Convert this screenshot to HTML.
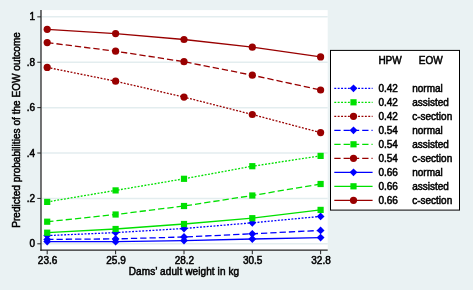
<!DOCTYPE html>
<html><head><meta charset="utf-8"><title>chart</title>
<style>
html,body{margin:0;padding:0;background:#eaf2f3;}
body{width:473px;height:290px;overflow:hidden;}
svg{display:block;}
text{font-family:"Liberation Sans",sans-serif;font-size:10px;fill:#000;stroke:#000;stroke-width:0.5px;}
</style></head><body>
<svg width="473" height="290" viewBox="0 0 473 290">
<defs><filter id="soft" x="-5%" y="-5%" width="110%" height="110%"><feGaussianBlur stdDeviation="0.35"/></filter></defs>
<rect x="0" y="0" width="473" height="290" fill="#eaf2f3"/>
<g filter="url(#soft)">
<rect x="41" y="10.1" width="286.7" height="240.2" fill="#ffffff"/>

<line x1="41.5" x2="327.7" y1="243.80" y2="243.80" stroke="#e3edef" stroke-width="1.5"/>
<line x1="41.5" x2="327.7" y1="198.41" y2="198.41" stroke="#e3edef" stroke-width="1.5"/>
<line x1="41.5" x2="327.7" y1="153.02" y2="153.02" stroke="#e3edef" stroke-width="1.5"/>
<line x1="41.5" x2="327.7" y1="107.63" y2="107.63" stroke="#e3edef" stroke-width="1.5"/>
<line x1="41.5" x2="327.7" y1="62.24" y2="62.24" stroke="#e3edef" stroke-width="1.5"/>
<line x1="41.5" x2="327.7" y1="16.85" y2="16.85" stroke="#e3edef" stroke-width="1.5"/>
<line x1="41" x2="41" y1="10.1" y2="250.7" stroke="#3a3a3a" stroke-width="1.4"/>
<line x1="40.3" x2="327.7" y1="250.1" y2="250.1" stroke="#222" stroke-width="1.3"/>
<line x1="37.3" x2="41" y1="243.80" y2="243.80" stroke="#222" stroke-width="1"/>
<text x="35.1" y="247.40" text-anchor="end">0</text>
<line x1="37.3" x2="41" y1="198.41" y2="198.41" stroke="#222" stroke-width="1"/>
<text x="35.1" y="202.01" text-anchor="end">.2</text>
<line x1="37.3" x2="41" y1="153.02" y2="153.02" stroke="#222" stroke-width="1"/>
<text x="35.1" y="156.62" text-anchor="end">.4</text>
<line x1="37.3" x2="41" y1="107.63" y2="107.63" stroke="#222" stroke-width="1"/>
<text x="35.1" y="111.23" text-anchor="end">.6</text>
<line x1="37.3" x2="41" y1="62.24" y2="62.24" stroke="#222" stroke-width="1"/>
<text x="35.1" y="65.84" text-anchor="end">.8</text>
<line x1="37.3" x2="41" y1="16.85" y2="16.85" stroke="#222" stroke-width="1"/>
<text x="35.1" y="20.45" text-anchor="end">1</text>
<line x1="47.2" x2="47.2" y1="250.3" y2="254.2" stroke="#222" stroke-width="1"/>
<text x="47.6" y="263.6" text-anchor="middle">23.6</text>
<line x1="115.6" x2="115.6" y1="250.3" y2="254.2" stroke="#222" stroke-width="1"/>
<text x="116.0" y="263.6" text-anchor="middle">25.9</text>
<line x1="184.0" x2="184.0" y1="250.3" y2="254.2" stroke="#222" stroke-width="1"/>
<text x="184.4" y="263.6" text-anchor="middle">28.2</text>
<line x1="252.3" x2="252.3" y1="250.3" y2="254.2" stroke="#222" stroke-width="1"/>
<text x="252.70000000000002" y="263.6" text-anchor="middle">30.5</text>
<line x1="320.6" x2="320.6" y1="250.3" y2="254.2" stroke="#222" stroke-width="1"/>
<text x="321.0" y="263.6" text-anchor="middle">32.8</text>
<text x="184" y="274.7" text-anchor="middle" style="letter-spacing:0.1px">Dams’ adult weight in kg</text>
<text transform="translate(19.6,129.9) rotate(-90)" text-anchor="middle" style="letter-spacing:0.04px">Predicted probabilities of the EOW outcome</text>
<polyline points="47.2,235.6 115.6,232.6 184.0,228.5 252.3,222.8 320.6,216.4" fill="none" stroke="#0000ff" stroke-width="1.3" stroke-dasharray="1.9 1.5"/>
<path d="M43.300000000000004 235.6L47.2 231.7L51.1 235.6L47.2 239.5Z" fill="#0000ff"/>
<path d="M111.69999999999999 232.6L115.6 228.7L119.5 232.6L115.6 236.5Z" fill="#0000ff"/>
<path d="M180.1 228.5L184.0 224.6L187.9 228.5L184.0 232.4Z" fill="#0000ff"/>
<path d="M248.4 222.8L252.3 218.9L256.2 222.8L252.3 226.70000000000002Z" fill="#0000ff"/>
<path d="M316.70000000000005 216.4L320.6 212.5L324.5 216.4L320.6 220.3Z" fill="#0000ff"/>
<polyline points="47.2,201.9 115.6,190.4 184.0,178.8 252.3,166.2 320.6,155.9" fill="none" stroke="#00e000" stroke-width="1.3" stroke-dasharray="1.9 1.5"/>
<rect x="44.1" y="198.8" width="6.2" height="6.2" fill="#00e000"/>
<rect x="112.5" y="187.3" width="6.2" height="6.2" fill="#00e000"/>
<rect x="180.9" y="175.70000000000002" width="6.2" height="6.2" fill="#00e000"/>
<rect x="249.20000000000002" y="163.1" width="6.2" height="6.2" fill="#00e000"/>
<rect x="317.5" y="152.8" width="6.2" height="6.2" fill="#00e000"/>
<polyline points="47.2,67.4 115.6,81.2 184.0,97.1 252.3,114.5 320.6,132.6" fill="none" stroke="#990000" stroke-width="1.3" stroke-dasharray="1.9 1.5"/>
<circle cx="47.2" cy="67.4" r="3.6" fill="#990000"/>
<circle cx="115.6" cy="81.2" r="3.6" fill="#990000"/>
<circle cx="184.0" cy="97.1" r="3.6" fill="#990000"/>
<circle cx="252.3" cy="114.5" r="3.6" fill="#990000"/>
<circle cx="320.6" cy="132.6" r="3.6" fill="#990000"/>
<polyline points="47.2,239.4 115.6,238.9 184.0,237.0 252.3,233.8 320.6,230.4" fill="none" stroke="#0000ff" stroke-width="1.3" stroke-dasharray="6.3 3"/>
<path d="M43.300000000000004 239.4L47.2 235.5L51.1 239.4L47.2 243.3Z" fill="#0000ff"/>
<path d="M111.69999999999999 238.9L115.6 235.0L119.5 238.9L115.6 242.8Z" fill="#0000ff"/>
<path d="M180.1 237.0L184.0 233.1L187.9 237.0L184.0 240.9Z" fill="#0000ff"/>
<path d="M248.4 233.8L252.3 229.9L256.2 233.8L252.3 237.70000000000002Z" fill="#0000ff"/>
<path d="M316.70000000000005 230.4L320.6 226.5L324.5 230.4L320.6 234.3Z" fill="#0000ff"/>
<polyline points="47.2,221.7 115.6,214.5 184.0,206.0 252.3,195.5 320.6,184.0" fill="none" stroke="#00e000" stroke-width="1.3" stroke-dasharray="6.3 3"/>
<rect x="44.1" y="218.6" width="6.2" height="6.2" fill="#00e000"/>
<rect x="112.5" y="211.4" width="6.2" height="6.2" fill="#00e000"/>
<rect x="180.9" y="202.9" width="6.2" height="6.2" fill="#00e000"/>
<rect x="249.20000000000002" y="192.4" width="6.2" height="6.2" fill="#00e000"/>
<rect x="317.5" y="180.9" width="6.2" height="6.2" fill="#00e000"/>
<polyline points="47.2,42.6 115.6,51.2 184.0,61.7 252.3,75.2 320.6,90.0" fill="none" stroke="#990000" stroke-width="1.3" stroke-dasharray="6.3 3"/>
<circle cx="47.2" cy="42.6" r="3.6" fill="#990000"/>
<circle cx="115.6" cy="51.2" r="3.6" fill="#990000"/>
<circle cx="184.0" cy="61.7" r="3.6" fill="#990000"/>
<circle cx="252.3" cy="75.2" r="3.6" fill="#990000"/>
<circle cx="320.6" cy="90.0" r="3.6" fill="#990000"/>
<polyline points="47.2,241.6 115.6,241.7 184.0,240.6 252.3,239.0 320.6,237.6" fill="none" stroke="#0000ff" stroke-width="1.3"/>
<path d="M43.300000000000004 241.6L47.2 237.7L51.1 241.6L47.2 245.5Z" fill="#0000ff"/>
<path d="M111.69999999999999 241.7L115.6 237.79999999999998L119.5 241.7L115.6 245.6Z" fill="#0000ff"/>
<path d="M180.1 240.6L184.0 236.7L187.9 240.6L184.0 244.5Z" fill="#0000ff"/>
<path d="M248.4 239.0L252.3 235.1L256.2 239.0L252.3 242.9Z" fill="#0000ff"/>
<path d="M316.70000000000005 237.6L320.6 233.7L324.5 237.6L320.6 241.5Z" fill="#0000ff"/>
<polyline points="47.2,232.7 115.6,229.0 184.0,224.0 252.3,218.2 320.6,209.9" fill="none" stroke="#00e000" stroke-width="1.3"/>
<rect x="44.1" y="229.6" width="6.2" height="6.2" fill="#00e000"/>
<rect x="112.5" y="225.9" width="6.2" height="6.2" fill="#00e000"/>
<rect x="180.9" y="220.9" width="6.2" height="6.2" fill="#00e000"/>
<rect x="249.20000000000002" y="215.1" width="6.2" height="6.2" fill="#00e000"/>
<rect x="317.5" y="206.8" width="6.2" height="6.2" fill="#00e000"/>
<polyline points="47.2,29.3 115.6,33.6 184.0,39.5 252.3,47.2 320.6,56.9" fill="none" stroke="#990000" stroke-width="1.3"/>
<circle cx="47.2" cy="29.3" r="3.6" fill="#990000"/>
<circle cx="115.6" cy="33.6" r="3.6" fill="#990000"/>
<circle cx="184.0" cy="39.5" r="3.6" fill="#990000"/>
<circle cx="252.3" cy="47.2" r="3.6" fill="#990000"/>
<circle cx="320.6" cy="56.9" r="3.6" fill="#990000"/>
<rect x="330.5" y="50.4" width="129" height="159.7" fill="#fff" stroke="#000" stroke-width="1"/>
<text x="378.4" y="64.3">HPW</text>
<text x="418.8" y="64.3">EOW</text>
<line x1="334.3" x2="372.6" y1="88.3" y2="88.3" stroke="#0000ff" stroke-width="1.3" stroke-dasharray="1.9 1.5"/>
<path d="M349.6 88.3L353.5 84.39999999999999L357.4 88.3L353.5 92.2Z" fill="#0000ff"/>
<text x="378.4" y="91.89999999999999">0.42</text>
<text x="412.2" y="91.89999999999999">normal</text>
<line x1="334.3" x2="372.6" y1="102.3" y2="102.3" stroke="#00e000" stroke-width="1.3" stroke-dasharray="1.9 1.5"/>
<rect x="350.4" y="99.2" width="6.2" height="6.2" fill="#00e000"/>
<text x="378.4" y="105.89999999999999">0.42</text>
<text x="412.2" y="105.89999999999999">assisted</text>
<line x1="334.3" x2="372.6" y1="116.3" y2="116.3" stroke="#990000" stroke-width="1.3" stroke-dasharray="1.9 1.5"/>
<circle cx="353.5" cy="116.3" r="3.6" fill="#990000"/>
<text x="378.4" y="119.89999999999999">0.42</text>
<text x="412.2" y="119.89999999999999">c-section</text>
<line x1="334.3" x2="372.6" y1="130.3" y2="130.3" stroke="#0000ff" stroke-width="1.3" stroke-dasharray="6.3 3"/>
<path d="M349.6 130.3L353.5 126.4L357.4 130.3L353.5 134.20000000000002Z" fill="#0000ff"/>
<text x="378.4" y="133.9">0.54</text>
<text x="412.2" y="133.9">normal</text>
<line x1="334.3" x2="372.6" y1="144.3" y2="144.3" stroke="#00e000" stroke-width="1.3" stroke-dasharray="6.3 3"/>
<rect x="350.4" y="141.20000000000002" width="6.2" height="6.2" fill="#00e000"/>
<text x="378.4" y="147.9">0.54</text>
<text x="412.2" y="147.9">assisted</text>
<line x1="334.3" x2="372.6" y1="158.3" y2="158.3" stroke="#990000" stroke-width="1.3" stroke-dasharray="6.3 3"/>
<circle cx="353.5" cy="158.3" r="3.6" fill="#990000"/>
<text x="378.4" y="161.9">0.54</text>
<text x="412.2" y="161.9">c-section</text>
<line x1="334.3" x2="372.6" y1="172.3" y2="172.3" stroke="#0000ff" stroke-width="1.3"/>
<path d="M349.6 172.3L353.5 168.4L357.4 172.3L353.5 176.20000000000002Z" fill="#0000ff"/>
<text x="378.4" y="175.9">0.66</text>
<text x="412.2" y="175.9">normal</text>
<line x1="334.3" x2="372.6" y1="186.3" y2="186.3" stroke="#00e000" stroke-width="1.3"/>
<rect x="350.4" y="183.20000000000002" width="6.2" height="6.2" fill="#00e000"/>
<text x="378.4" y="189.9">0.66</text>
<text x="412.2" y="189.9">assisted</text>
<line x1="334.3" x2="372.6" y1="200.3" y2="200.3" stroke="#990000" stroke-width="1.3"/>
<circle cx="353.5" cy="200.3" r="3.6" fill="#990000"/>
<text x="378.4" y="203.9">0.66</text>
<text x="412.2" y="203.9">c-section</text>
</g></svg></body></html>
